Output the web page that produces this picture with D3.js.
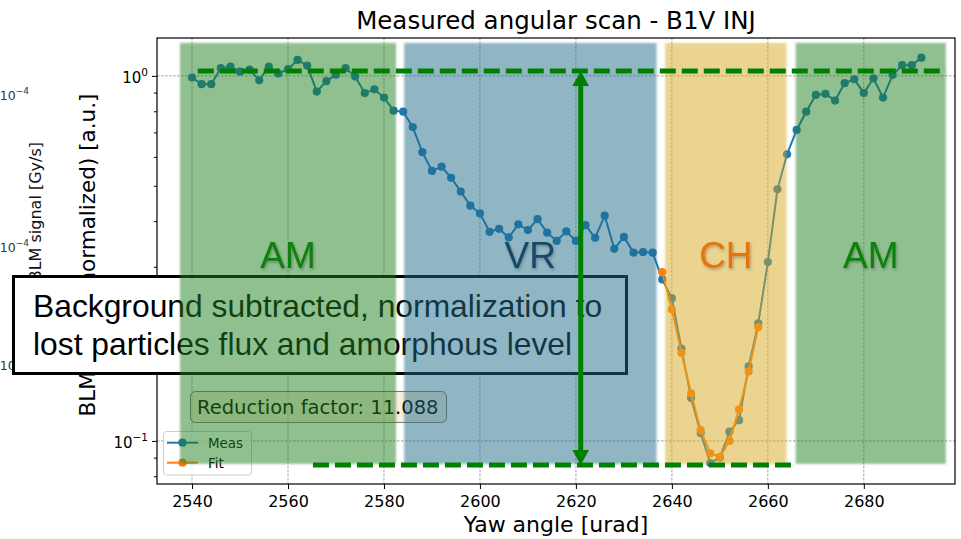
<!DOCTYPE html>
<html>
<head>
<meta charset="utf-8">
<script src="https://cdn.jsdelivr.net/npm/d3@7"></script>
<style>
  html, body { margin: 0; padding: 0; background: #fff; }
  svg { display: block; }
</style>
</head>
<body>
<svg id="chart" width="961" height="539"></svg>
<script>
// measured scan: yaw angle [urad] and normalized BLM signal
const measAngles = [
  2540, 2542, 2544, 2546, 2548, 2550, 2552, 2554, 2556, 2558,
  2560, 2562, 2564, 2566, 2568, 2570, 2572, 2574, 2576, 2578,
  2580, 2582, 2584, 2586, 2588, 2590, 2592, 2594, 2596, 2598,
  2600, 2602, 2604, 2606, 2608, 2610, 2612, 2614, 2616, 2618,
  2620, 2622, 2624, 2626, 2628, 2630, 2632, 2634, 2636, 2638,
  2640, 2642, 2644, 2646, 2648, 2650, 2652, 2654, 2656, 2658,
  2660, 2662, 2664, 2666, 2668, 2670, 2672, 2674, 2676, 2678,
  2680, 2682, 2684, 2686, 2688, 2690, 2692,
]
const measValues = [
  0.990, 0.949, 0.949, 1.050, 1.060, 1.027, 1.040, 0.973, 1.060, 1.015,
  1.043, 1.106, 1.067, 0.906, 0.967, 1.008, 1.050, 0.996, 0.897, 0.919,
  0.872, 0.803, 0.798, 0.724, 0.618, 0.549, 0.564, 0.526, 0.482, 0.441,
  0.420, 0.374, 0.381, 0.361, 0.392, 0.378, 0.405, 0.372, 0.353, 0.375,
  0.353, 0.390, 0.360, 0.414, 0.336, 0.362, 0.328, 0.329, 0.328, 0.277,
  0.246, 0.179, 0.131, 0.105, 0.087, 0.090, 0.106, 0.114, 0.160, 0.210,
  0.309, 0.489, 0.610, 0.711, 0.798, 0.887, 0.893, 0.856, 0.955, 0.979,
  0.897, 0.985, 0.872, 1.006, 1.070, 1.070, 1.122,
]

// channeling fit
const fitAngles = [2638, 2640, 2642, 2644, 2646, 2648, 2650, 2652, 2654, 2656, 2658]
const fitValues = [0.290, 0.229, 0.174, 0.135, 0.107, 0.0925, 0.0904, 0.100, 0.122, 0.155, 0.205]

// axes
const xTickValues = [2540, 2560, 2580, 2600, 2620, 2640, 2660, 2680]
const yTickValues = [0.1, 1]
const yTickExponents = ['\u22121', '0']
const yMinorTicks = [0.08, 0.09, 0.2, 0.3, 0.4, 0.5, 0.6, 0.7, 0.8, 0.9]
const xDomain = [2532.7, 2699]
const yDomain = [0.0762, 1.27]

// crystal regions drawn over the plot
const regionNames = ['AM', 'VR', 'CH', 'AM']
const regionStarts = [2537.5, 2584.2, 2638.6, 2665.8]
const regionEnds = [2582.5, 2636.8, 2663.9, 2697.1]
const regionColors = ['#238123', '#1f6d89', '#d7a923', '#238123']
const regionLabelColors = ['#0a800a', '#154a68', '#e8730c', '#0a800a']
const regionTop = 1.231
const regionBottom = 0.0865
const regionLabelLevel = 0.298

// reduction annotation
const reductionFactor = 11.088
const amorphousLevel = 1.032
const channelingLevel = 0.0859
const amorphousSpan = [2541.2, 2697.1]
const channelingSpan = [2565.2, 2665.8]
const arrowAngle = 2621.0

const width = 961
const height = 539
const margin = { top: 38, right: 6, bottom: 55, left: 157 }
const chartFont = 'DejaVu Sans, sans-serif'
const slideFont = 'Liberation Sans, Arial, sans-serif'

const svg = d3.select('#chart')

const defs = svg.append('defs')
defs
  .append('filter')
  .attr('id', 'soft')
  .attr('x', '-5%')
  .attr('y', '-5%')
  .attr('width', '110%')
  .attr('height', '110%')
  .append('feGaussianBlur')
  .attr('stdDeviation', 1)
defs
  .append('filter')
  .attr('id', 'glow')
  .attr('x', '-20%')
  .attr('y', '-20%')
  .attr('width', '140%')
  .attr('height', '140%')
  .append('feDropShadow')
  .attr('dx', 1)
  .attr('dy', 1.5)
  .attr('stdDeviation', 1.5)
  .attr('flood-color', '#000')
  .attr('flood-opacity', 0.3)

// background
svg
  .append('rect')
  .attr('width', width)
  .attr('height', height)
  .attr('fill', '#fff')

// leftovers of the slide's other plot
const leftover = svg.append('g').attr('id', 'leftover')
;[100, 252, 370].forEach((yy) => {
  leftover
    .append('text')
    .attr('x', 29)
    .attr('y', yy)
    .attr('text-anchor', 'end')
    .attr('font-family', chartFont)
    .attr('font-size', 12.5)
    .attr('fill', '#333')
    .text('10')
    .append('tspan')
    .attr('dy', -6)
    .attr('font-size', 9)
    .text('\u22124')
})
leftover
  .append('text')
  .attr('transform', 'translate(41,142) rotate(-90)')
  .attr('text-anchor', 'end')
  .attr('font-family', chartFont)
  .attr('font-size', 16)
  .attr('fill', '#111')
  .text('BLM signal [Gy/s]')

// scales
const x = d3
  .scaleLinear()
  .domain(xDomain)
  .range([margin.left, width - margin.right])
const y = d3
  .scaleLog()
  .domain(yDomain)
  .range([height - margin.bottom, margin.top])

const plotLeft = margin.left
const plotRight = width - margin.right
const plotTop = margin.top
const plotBottom = height - margin.bottom

const chart = svg.append('g').attr('id', 'viz')

// grid
const grid = chart.append('g').attr('id', 'grid')
grid
  .selectAll('line.gx')
  .data(xTickValues)
  .join('line')
  .attr('class', 'gx')
  .attr('x1', (d) => x(d))
  .attr('x2', (d) => x(d))
  .attr('y1', plotTop)
  .attr('y2', plotBottom)
grid
  .selectAll('line.gy')
  .data(yTickValues)
  .join('line')
  .attr('class', 'gy')
  .attr('x1', plotLeft)
  .attr('x2', plotRight)
  .attr('y1', (d) => y(d))
  .attr('y2', (d) => y(d))
grid
  .selectAll('line')
  .attr('stroke', '#7a7a7a')
  .attr('stroke-width', 0.7)
  .attr('stroke-dasharray', '2.5,1.5')

// axes
chart
  .append('g')
  .attr('id', 'xAxis')
  .attr('transform', `translate(0,${plotBottom})`)
  .call(d3.axisBottom(x).tickValues(xTickValues).tickSize(5).tickPadding(7).tickFormat(d3.format('d')))
  .call((g) => g.select('.domain').remove())
  .call((g) =>
    g
      .selectAll('.tick text')
      .attr('font-family', chartFont)
      .attr('font-size', 16)
      .attr('fill', '#000')
  )

chart
  .append('g')
  .attr('id', 'yAxis')
  .attr('transform', `translate(${plotLeft},0)`)
  .call(d3.axisLeft(y).tickValues(yTickValues).tickSize(5).tickPadding(5).tickFormat(() => '10'))
  .call((g) => g.select('.domain').remove())
  .call((g) =>
    g
      .selectAll('.tick text')
      .attr('font-family', chartFont)
      .attr('font-size', 15)
      .attr('fill', '#000')
      .attr('dy', '0.42em')
      .attr('x', -9)
      .append('tspan')
      .attr('dy', -7)
      .attr('font-size', 10.5)
      .text((d) => yTickExponents[yTickValues.indexOf(d)])
  )

chart
  .append('g')
  .attr('id', 'yMinor')
  .attr('transform', `translate(${plotLeft},0)`)
  .call(d3.axisLeft(y).tickValues(yMinorTicks).tickSize(3).tickFormat(() => ''))
  .call((g) => g.select('.domain').remove())

chart.selectAll('.tick line').attr('stroke', '#000').attr('stroke-width', 1)

// frame
chart
  .append('rect')
  .attr('x', plotLeft)
  .attr('y', plotTop)
  .attr('width', plotRight - plotLeft)
  .attr('height', plotBottom - plotTop)
  .attr('fill', 'none')
  .attr('stroke', '#000')
  .attr('stroke-width', 1.2)

// labels
chart
  .append('text')
  .attr('x', (plotLeft + plotRight) / 2)
  .attr('y', 29)
  .attr('text-anchor', 'middle')
  .attr('font-family', chartFont)
  .attr('font-size', 24.5)
  .attr('fill', '#000')
  .text('Measured angular scan - B1V INJ')

chart
  .append('text')
  .attr('x', (plotLeft + plotRight) / 2)
  .attr('y', 532)
  .attr('text-anchor', 'middle')
  .attr('font-family', chartFont)
  .attr('font-size', 22)
  .attr('fill', '#000')
  .text('Yaw angle [urad]')

chart
  .append('text')
  .attr('transform', 'translate(95,255) rotate(-90)')
  .attr('text-anchor', 'middle')
  .attr('font-family', chartFont)
  .attr('font-size', 21.5)
  .attr('fill', '#000')
  .text('BLM signal (normalized) [a.u.]')

// series
const line = d3
  .line()
  .x((d) => x(d[0]))
  .y((d) => y(d[1]))

const series = [
  { name: 'Meas', color: '#1f77b4', data: d3.zip(measAngles, measValues) },
  { name: 'Fit', color: '#ff7f0e', data: d3.zip(fitAngles, fitValues) },
]

series.forEach((s) => {
  const g = chart.append('g').attr('class', 'series').attr('id', s.name)
  g.append('path')
    .attr('d', line(s.data))
    .attr('fill', 'none')
    .attr('stroke', s.color)
    .attr('stroke-width', 2)
  g.selectAll('circle')
    .data(s.data)
    .join('circle')
    .attr('cx', (d) => x(d[0]))
    .attr('cy', (d) => y(d[1]))
    .attr('r', 4.1)
    .attr('fill', s.color)
})

// reduction factor box
const reduction = chart.append('g').attr('id', 'reduction')
reduction
  .append('rect')
  .attr('x', 190.5)
  .attr('y', 391.5)
  .attr('width', 256)
  .attr('height', 31)
  .attr('rx', 5)
  .attr('fill', 'wheat')
  .attr('fill-opacity', 0.5)
  .attr('stroke', '#000')
  .attr('stroke-opacity', 0.5)
reduction
  .append('text')
  .attr('x', 197)
  .attr('y', 413.5)
  .attr('font-family', chartFont)
  .attr('font-size', 19.5)
  .attr('fill', '#000')
  .text(`Reduction factor: ${reductionFactor}`)

// legend
const legendLayer = chart.append('g').attr('id', 'legend')
legendLayer
  .append('rect')
  .attr('x', 163.5)
  .attr('y', 431.5)
  .attr('width', 88)
  .attr('height', 43.5)
  .attr('rx', 3)
  .attr('fill', '#fff')
  .attr('fill-opacity', 0.8)
  .attr('stroke', '#cccccc')
series.forEach((s, i) => {
  const ly = 442.7 + i * 20
  legendLayer
    .append('line')
    .attr('x1', 167)
    .attr('x2', 198)
    .attr('y1', ly)
    .attr('y2', ly)
    .attr('stroke', s.color)
    .attr('stroke-width', 2)
  legendLayer
    .append('circle')
    .attr('cx', 182.5)
    .attr('cy', ly)
    .attr('r', 4.1)
    .attr('fill', s.color)
  legendLayer
    .append('text')
    .attr('x', 208)
    .attr('y', ly + 5)
    .attr('font-family', chartFont)
    .attr('font-size', 13.4)
    .attr('fill', '#000')
    .text(s.name)
})

// slide text box
const note = svg.append('g').attr('id', 'note')
note
  .append('rect')
  .attr('x', 13.5)
  .attr('y', 276.5)
  .attr('width', 613)
  .attr('height', 97)
  .attr('fill', '#fff')
  .attr('stroke', '#000')
  .attr('stroke-width', 3)
note
  .selectAll('text')
  .data(['Background subtracted, normalization to', 'lost particles flux and amorphous level'])
  .join('text')
  .attr('x', 33)
  .attr('y', (d, i) => 316.5 + i * 38.5)
  .attr('font-family', slideFont)
  .attr('font-size', 31.8)
  .attr('fill', '#000')
  .text((d) => d)

// shaded regions
const regions = regionNames.map((name, i) => ({
  name,
  start: regionStarts[i],
  end: regionEnds[i],
  color: regionColors[i],
  labelColor: regionLabelColors[i],
}))

svg
  .append('g')
  .attr('id', 'regions')
  .selectAll('rect')
  .data(regions)
  .join('rect')
  .attr('x', (d) => x(d.start))
  .attr('y', y(regionTop))
  .attr('width', (d) => x(d.end) - x(d.start))
  .attr('height', y(regionBottom) - y(regionTop))
  .attr('fill', (d) => d.color)
  .attr('fill-opacity', 0.5)
  .attr('filter', 'url(#soft)')

// reduction lines and arrow
const annot = svg.append('g').attr('id', 'annotation')
annot
  .selectAll('line.level')
  .data([
    { span: amorphousSpan, level: amorphousLevel },
    { span: channelingSpan, level: channelingLevel },
  ])
  .join('line')
  .attr('class', 'level')
  .attr('x1', (d) => x(d.span[0]))
  .attr('x2', (d) => x(d.span[1]))
  .attr('y1', (d) => y(d.level))
  .attr('y2', (d) => y(d.level))
  .attr('stroke', '#008000')
  .attr('stroke-width', 5)
  .attr('stroke-dasharray', '16,6')

const ax = x(arrowAngle)
const aTop = y(amorphousLevel)
const aBottom = y(channelingLevel)
const headW = 8.3
const headH = 15
annot
  .append('line')
  .attr('x1', ax)
  .attr('x2', ax)
  .attr('y1', aTop + headH - 1)
  .attr('y2', aBottom - headH + 1)
  .attr('stroke', '#008000')
  .attr('stroke-width', 5)
annot
  .append('path')
  .attr(
    'd',
    `M${ax},${aTop}L${ax + headW},${aTop + headH}L${ax - headW},${aTop + headH}Z` +
      `M${ax},${aBottom}L${ax + headW},${aBottom - headH}L${ax - headW},${aBottom - headH}Z`
  )
  .attr('fill', '#008000')

// region labels
svg
  .append('g')
  .attr('id', 'regionLabels')
  .selectAll('text')
  .data(regions)
  .join('text')
  .attr('x', (d) => (x(d.start) + x(d.end)) / 2)
  .attr('y', y(regionLabelLevel))
  .attr('text-anchor', 'middle')
  .attr('font-family', slideFont)
  .attr('font-size', 37)
  .attr('fill', (d) => d.labelColor)
  .attr('filter', 'url(#glow)')
  .text((d) => d.name)
</script>
</body>
</html>
